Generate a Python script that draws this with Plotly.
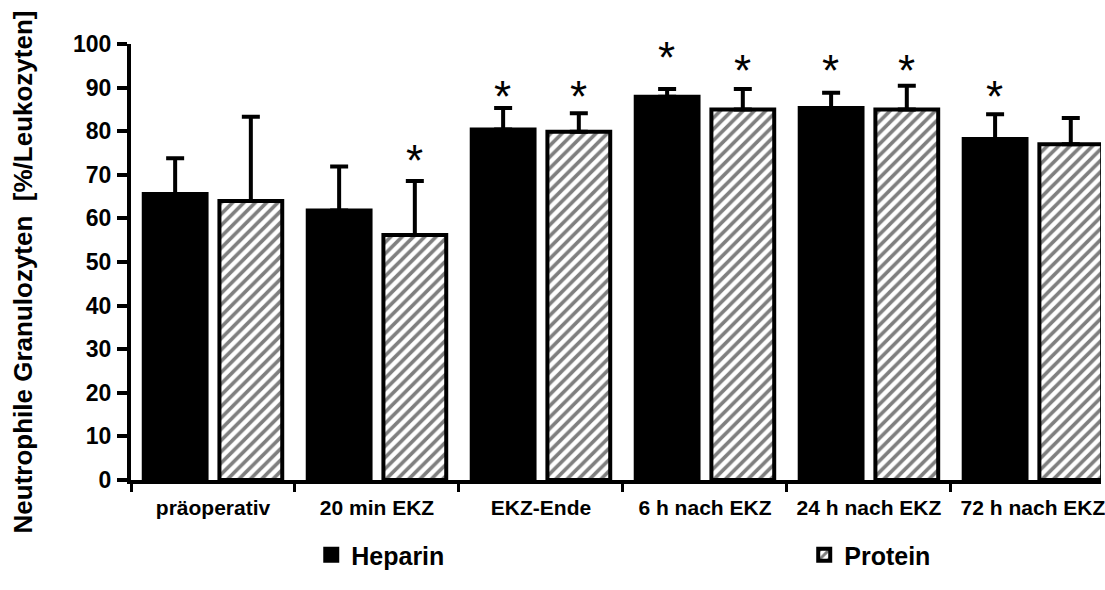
import plotly.graph_objects as go

# Zeitpunkte der Blutentnahme
categories = ["präoperativ", "20 min EKZ", "EKZ-Ende", "6 h nach EKZ", "24 h nach EKZ", "72 h nach EKZ"]

# Mittelwerte und Standardabweichungen (% der Leukozyten)
heparin_mean = [65.6, 61.8, 80.4, 87.9, 85.3, 78.2]
heparin_sd = [8.2, 10.1, 4.9, 1.8, 3.5, 5.7]
protein_mean = [64.0, 56.2, 79.9, 85.0, 85.0, 77.0]
protein_sd = [19.3, 12.4, 4.2, 4.7, 5.4, 6.0]

# Höhe der Signifikanz-Sterne (None = nicht signifikant)
heparin_sig = [None, None, 90.3, 99.1, 96.2, 90.2]
protein_sig = [None, 75.6, 90.3, 96.2, 96.2, None]

y_ticks = [0, 10, 20, 30, 40, 50, 60, 70, 80, 90, 100]

FONT = "Liberation Sans, Arial, sans-serif"
W, H = 1105, 590
L, R, T, B = 131, 0, 44, 110
plot_w = W - L - R
plot_h = H - T - B


def px_x(px):
    return (px - L) / plot_w


def px_y(py):
    return (H - B - py) / plot_h


err_style = dict(type="data", symmetric=False, color="black", thickness=4, width=9)

fig = go.Figure()
fig.add_trace(go.Bar(
    name="Heparin",
    x=categories,
    y=heparin_mean,
    marker=dict(color="black", line=dict(color="black", width=4)),
    error_y=dict(array=heparin_sd, arrayminus=[0] * len(heparin_sd), **err_style),
    legend="legend",
))
fig.add_trace(go.Bar(
    name="Protein",
    x=categories,
    y=protein_mean,
    marker=dict(
        color="white",
        line=dict(color="black", width=4),
        pattern=dict(shape="/", fgcolor="black", bgcolor="white", size=8, solidity=0.45),
    ),
    error_y=dict(array=protein_sd, arrayminus=[0] * len(protein_sd), **err_style),
    legend="legend2",
))

# Signifikanz-Sterne über den Balken
annotations = []
for trace_idx, levels in enumerate([heparin_sig, protein_sig]):
    for i, lvl in enumerate(levels):
        if lvl is None:
            continue
        annotations.append(dict(
            x=categories[i], y=lvl, xref="x", yref="y",
            xshift=-38 if trace_idx == 0 else 38,
            yshift=-10,
            text="*", showarrow=False,
            font=dict(family=FONT, size=44, color="black"),
            xanchor="center", yanchor="middle",
        ))

# y-Achsentitel
annotations.append(dict(
    x=px_x(23), y=px_y(272), xref="paper", yref="paper",
    text="Neutrophile Granulozyten\u00a0\u00a0[%/Leukozyten]",
    textangle=-90, showarrow=False,
    font=dict(family=FONT, size=26, color="black", weight="bold"),
    xanchor="center", yanchor="middle",
))

legend_common = dict(
    orientation="h", yanchor="middle", xanchor="left",
    font=dict(family=FONT, size=25, color="black", weight="bold"),
    bgcolor="rgba(0,0,0,0)", borderwidth=0,
)

fig.update_layout(
    width=W, height=H,
    margin=dict(l=L, r=R, t=T, b=B, pad=0),
    paper_bgcolor="white", plot_bgcolor="white",
    barmode="group", bargap=0.077, bargroupgap=0.17,
    showlegend=True,
    legend=dict(x=px_x(312), y=px_y(555), **legend_common),
    legend2=dict(x=px_x(807), y=px_y(555), **legend_common),
    annotations=annotations,
    font=dict(family=FONT, color="black"),
)

fig.update_xaxes(
    type="category",
    range=[-0.5, 5.415],
    showline=True, linecolor="black", linewidth=4,
    ticks="outside", tickson="boundaries", ticklen=8, tickwidth=3, tickcolor="black",
    ticklabelstandoff=6,
    tickfont=dict(family=FONT, size=21, color="black", weight="bold"),
    showgrid=False, zeroline=False,
)
fig.update_yaxes(
    range=[0, 100],
    tickvals=y_ticks,
    showline=True, linecolor="black", linewidth=4,
    ticks="outside", ticklen=10, tickwidth=4, tickcolor="black",
    ticklabelstandoff=1,
    tickfont=dict(family=FONT, size=23, color="black", weight="bold"),
    showgrid=False, zeroline=False,
)

fig.write_html("out.html")
